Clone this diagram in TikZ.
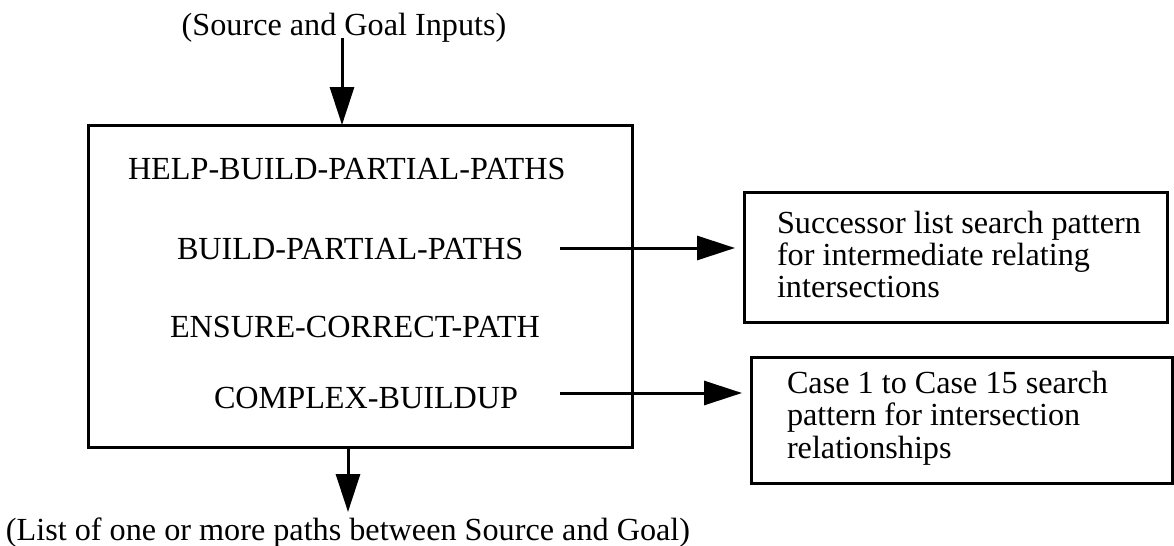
\documentclass[tikz,border=0pt]{standalone}
\usepackage{fontspec}
\setmainfont{Liberation Serif}
\usetikzlibrary{arrows.meta}

\begin{document}
\begin{tikzpicture}[x=0.5pt,y=-0.5pt,
  every node/.style={font=\fontsize{16.1}{16.1}\selectfont, inner sep=0pt, outer sep=0pt},
  frame/.style={draw, line width=1.5pt, rectangle},
  txt/.style={anchor=base west},
  flow/.style={line width=1.5pt, -{Triangle[length=19pt,width=12pt]}}]

  \useasboundingbox (0,0) rectangle (1174,546);

  % procedure block
  \node[frame, minimum width=272pt, minimum height=161pt] (main) at (360,286) {};
  \node[txt] (help)    at (128,179) {HELP-BUILD-PARTIAL-PATHS};
  \node[txt] (build)   at (177,259) {BUILD-PARTIAL-PATHS};
  \node[txt] (ensure)  at (170,337) {ENSURE-CORRECT-PATH};
  \node[txt] (complex) at (214,408) {COMPLEX-BUILDUP};

  % search pattern blocks
  \node[frame, minimum width=211.5pt, minimum height=65pt] (succ) at (955.5,257) {};
  \node[txt] (s1) at (777,233) {Successor list search pattern};
  \node[txt] (s2) at (777,265) {for intermediate relating};
  \node[txt] (s3) at (777,297) {intersections};

  \node[frame, minimum width=210.5pt, minimum height=63pt] (cases) at (961.5,420) {};
  \node[txt] (c1) at (787,393) {Case 1 to Case 15 search};
  \node[txt] (c2) at (787,425) {pattern for intersection};
  \node[txt] (c3) at (787,458) {relationships};

  % inputs and outputs
  \node[anchor=base] (src) at (344,35) {(Source and Goal Inputs)};
  \node[anchor=base] (dst) at (348,540) {(List of one or more paths between Source and Goal)};

  \coordinate (inTop)  at (342,38);
  \coordinate (outBot) at (348,512);
  \coordinate (a1) at (560,248);
  \coordinate (a2) at (560,393);

  \draw[flow] (inTop) -- (inTop |- main.north);
  \draw[flow] (outBot |- main.south) -- (outBot);
  \draw[flow] (a1) -- ([xshift=-4.5pt]a1 -| succ.west);
  \draw[flow] (a2) -- ([xshift=-4.5pt]a2 -| cases.west);
\end{tikzpicture}
\end{document}
